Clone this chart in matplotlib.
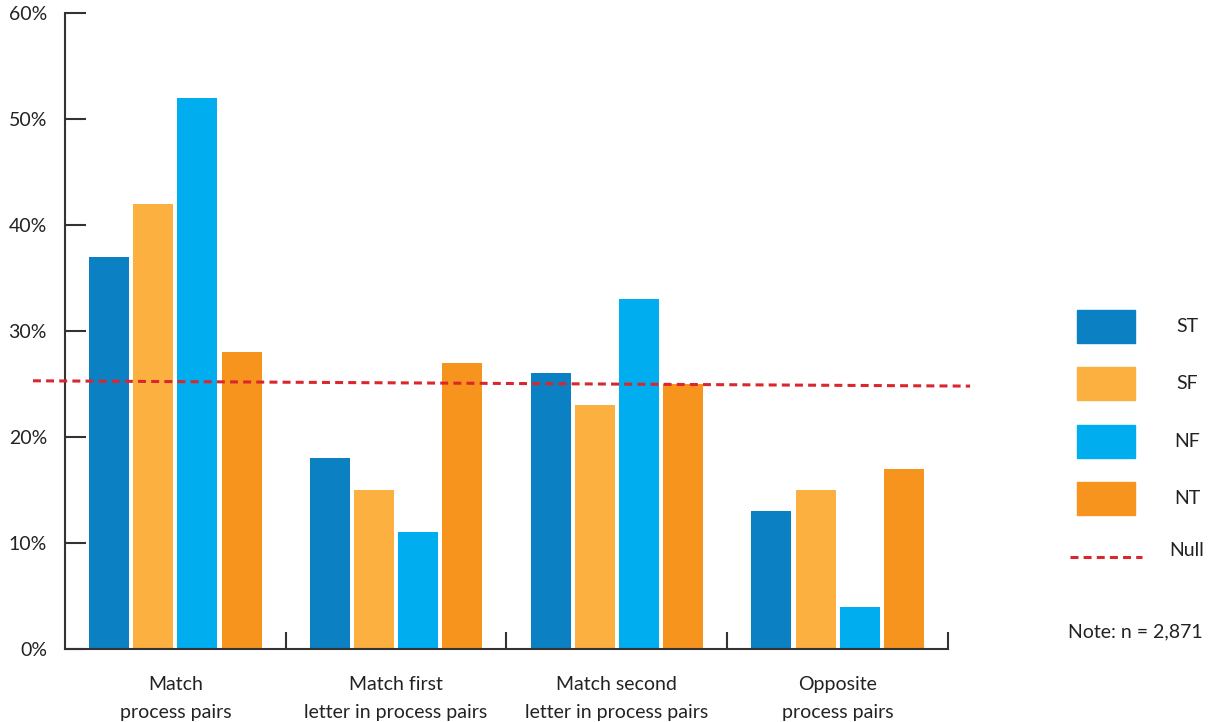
import numpy as np
import matplotlib.pyplot as plt
from matplotlib.patches import Rectangle
from matplotlib.lines import Line2D

plt.rcParams['font.family'] = ['Lato', 'DejaVu Sans']

# data
groups = ['Match\nprocess pairs', 'Match first\nletter in process pairs',
          'Match second\nletter in process pairs', 'Opposite\nprocess pairs']
types = ['ST', 'SF', 'NF', 'NT']
st = [37, 18, 26, 13]
sf = [42, 15, 23, 15]
nf = [52, 11, 33, 4]
nt = [28, 27, 25, 17]
null_x = [-0.145, 4.1]
null_y = [25.3, 24.8]
colors = ['#0b80c3', '#fbb040', '#00aeef', '#f7941e']
null_color = '#d9272e'
W, H = 1212, 722

fig = plt.figure(figsize=(12.12, 7.22), dpi=100)
ax = fig.add_axes([0.0536, 0.1011, 0.7286, 0.881])

centers = np.arange(len(groups)) + 0.5
width = 0.181
step = 0.2
for i, vals in enumerate([st, sf, nf, nt]):
    ax.bar(centers + (i - 1.5) * step, vals, width, color=colors[i], zorder=2)

ax.plot(null_x, null_y, color=null_color, lw=2.2, dashes=(2.6, 1.7), clip_on=False, zorder=3)

ax.set_xlim(0, 4)
ax.set_ylim(0, 60)
ax.spines['top'].set_visible(False)
ax.spines['right'].set_visible(False)
for s in ['left', 'bottom']:
    ax.spines[s].set_linewidth(1.5)
    ax.spines[s].set_color('#333333')

ax.set_yticks(np.arange(0, 61, 10))
ax.set_yticklabels(['%d%%' % v for v in range(0, 61, 10)])
ax.tick_params(axis='y', direction='in', length=15, width=1.5, color='#333333',
               labelsize=14, pad=13, labelcolor='#222222')

ax.set_xticks([1, 2, 3, 4])
ax.set_xticklabels([])
ax.set_xticks(centers, minor=True)
ax.set_xticklabels(groups, minor=True, linespacing=1.75)
ax.tick_params(axis='x', which='major', direction='in', length=12, width=1.5, color='#333333')
ax.tick_params(axis='x', which='minor', length=0, labelsize=14, pad=19.5, labelcolor='#222222')

# legend drawn by hand, labels centred like the original
tops = [310, 367, 425, 482]
for top, c, lab in zip(tops, colors, types):
    fig.add_artist(Rectangle((1077 / W, 1 - (top + 33) / H), 58 / W, 33 / H,
                             color=c, transform=fig.transFigure))
    fig.text(1187 / W, 1 - (top + 16.5) / H, lab, fontsize=14, color='#222222',
             ha='center', va='center')
fig.add_artist(Line2D([1070 / W, 1142 / W], [1 - 557 / H, 1 - 557 / H], color=null_color,
                      lw=2.2, dashes=(2.6, 1.7), transform=fig.transFigure))
fig.text(1187 / W, 1 - 551 / H, 'Null', fontsize=14, color='#222222', ha='center', va='center')

fig.text(1068 / W, 1 - 632 / H, 'Note: n = 2,871', fontsize=14, color='#222222', va='center')

plt.savefig('out.png')
